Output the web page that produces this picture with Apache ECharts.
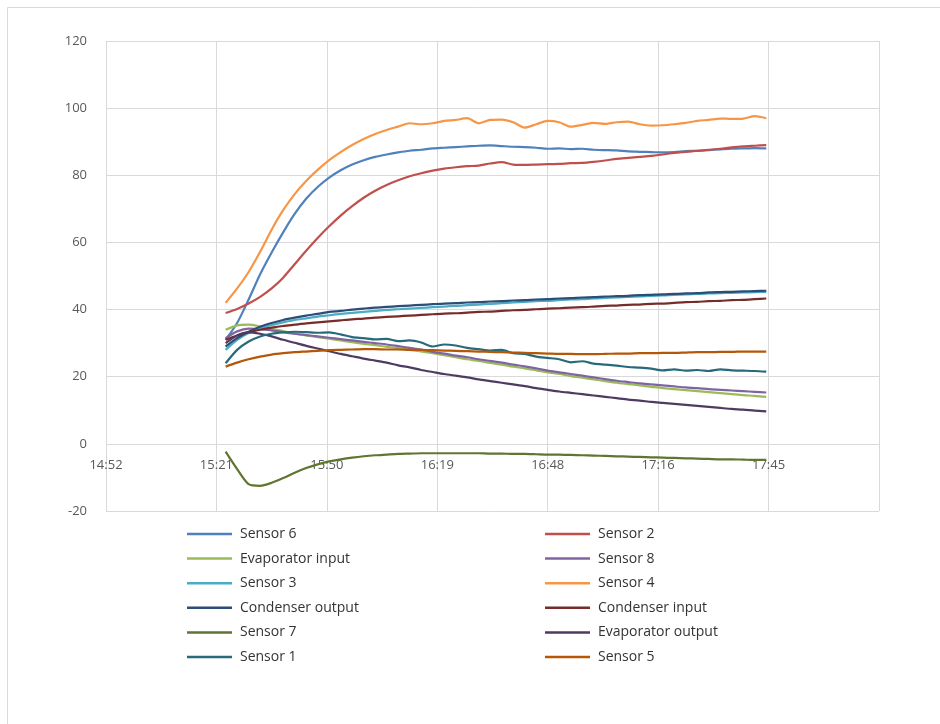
<!DOCTYPE html>
<html>
<head>
<meta charset="utf-8">
<title>Sensor temperatures</title>
<script src="https://cdn.jsdelivr.net/npm/echarts@6/dist/echarts.min.js"></script>
<style>
  html, body { margin: 0; padding: 0; background: #ffffff; }
  #chart { width: 940px; height: 724px; }
</style>
</head>
<body>
<div id="chart"></div>
<script>
// Sample times (every 3 minutes)
const times = [
  "15:24","15:27","15:30","15:33","15:36","15:39","15:42","15:45","15:48","15:51","15:54","15:57",
  "16:00","16:03","16:06","16:09","16:12","16:15","16:18","16:21","16:24","16:27","16:30","16:33",
  "16:36","16:39","16:42","16:45","16:48","16:51","16:54","16:57","17:00","17:03","17:06","17:09",
  "17:12","17:15","17:18","17:21","17:24","17:27","17:30","17:33","17:36","17:39","17:42","17:45"
];

// Temperature readings per channel
const sensor6 = [31,36,43,50.5,57,63,68.5,73,76.5,79.3,81.5,83.2,84.5,85.5,86.2,86.8,87.3,87.6,88,88.2,88.4,88.6,88.8,88.9,
  88.7,88.5,88.4,88.2,87.9,88,87.8,87.9,87.6,87.5,87.4,87.1,87,86.9,86.8,86.9,87.2,87.3,87.5,87.7,87.9,88,88.1,88];
const sensor2 = [39,40.2,41.8,43.8,46.3,49.5,53.5,57.5,61.3,64.8,68,70.8,73.3,75.4,77.1,78.5,79.7,80.6,81.4,82,82.4,82.7,82.9,83.5,
  83.9,83.2,83.1,83.2,83.3,83.4,83.6,83.7,84,84.4,84.9,85.2,85.5,85.8,86.2,86.7,87,87.3,87.6,87.9,88.3,88.6,88.8,89];
const evaporatorInput = [34,35.3,35.5,35,34.3,33.6,32.9,32.3,31.8,31.3,30.8,30.3,29.8,29.4,28.9,28.5,28,27.5,27,26.4,25.8,25.2,24.7,24.1,
  23.6,23,22.5,21.9,21.3,20.8,20.2,19.7,19.2,18.7,18.2,17.8,17.4,17,16.6,16.3,16,15.7,15.4,15.1,14.8,14.5,14.3,14];
const sensor8 = [31.5,33.5,34.3,34.2,33.8,33.3,32.8,32.4,32,31.6,31.2,30.8,30.4,30,29.6,29.1,28.6,28.1,27.4,26.9,26.3,25.8,25.2,24.7,
  24.2,23.6,23.1,22.5,21.8,21.3,20.8,20.3,19.8,19.3,18.8,18.4,18,17.7,17.4,17.1,16.8,16.6,16.3,16.1,15.9,15.7,15.5,15.3];
const sensor3 = [28,31,33,34.4,35.4,36.2,36.9,37.4,37.9,38.3,38.7,39,39.3,39.6,39.9,40.1,40.3,40.5,40.7,40.9,41.1,41.3,41.5,41.7,
  41.9,42.1,42.3,42.5,42.6,42.8,43,43.1,43.3,43.5,43.6,43.8,43.9,44.1,44.2,44.4,44.5,44.7,44.8,44.9,45,45.1,45.2,45.3];
const sensor4 = [42,46.3,51.2,57.2,63.8,69.6,74.4,78.3,81.6,84.5,86.9,89,90.8,92.3,93.5,94.5,95.5,95.2,95.5,96.2,96.5,97,95.5,96.5,
  96.6,95.8,94.2,95.2,96.2,95.8,94.5,95,95.6,95.3,95.8,96,95.2,94.8,94.9,95.2,95.6,96.2,96.5,96.9,96.8,96.9,97.6,97];
const condenserOutput = [29,31.5,33.4,34.9,36,36.9,37.6,38.2,38.7,39.3,39.6,40,40.3,40.6,40.8,41,41.2,41.4,41.6,41.8,41.9,42.1,42.2,42.4,
  42.5,42.7,42.8,43,43.1,43.3,43.4,43.6,43.7,43.9,44,44.1,44.3,44.4,44.5,44.7,44.8,44.9,45.1,45.2,45.3,45.4,45.5,45.6];
const condenserInput = [31,32.3,33.3,34,34.6,35.1,35.5,35.9,36.2,36.5,36.8,37.1,37.3,37.6,37.8,38,38.2,38.4,38.6,38.8,38.9,39.1,39.3,39.4,
  39.6,39.8,39.9,40.1,40.3,40.4,40.6,40.7,40.9,41.1,41.2,41.4,41.5,41.7,41.8,42,42.2,42.3,42.5,42.6,42.8,42.9,43.1,43.3];
const sensor7 = [-2.3,-7.5,-12,-12.5,-11.6,-10.2,-8.6,-7.2,-6.1,-5.2,-4.6,-4.1,-3.7,-3.4,-3.2,-3,-2.9,-2.8,-2.8,-2.8,-2.8,-2.8,-2.8,-2.9,
  -2.9,-3,-3,-3.1,-3.2,-3.2,-3.3,-3.4,-3.5,-3.6,-3.7,-3.8,-3.9,-4,-4.1,-4.2,-4.3,-4.4,-4.5,-4.6,-4.6,-4.7,-4.8,-4.8];
const evaporatorOutput = [30,32.3,33.2,32.8,32,31,30.1,29.2,28.4,27.6,26.8,26.1,25.4,24.8,24.2,23.4,22.8,22,21.4,20.8,20.3,19.8,19.2,18.7,
  18.2,17.7,17.2,16.6,16.1,15.6,15.2,14.8,14.4,14,13.6,13.2,12.9,12.5,12.2,11.9,11.6,11.3,11,10.7,10.4,10.2,9.9,9.7];
const sensor1 = [24,28,30.5,32,32.8,33.2,33.4,33.3,33.1,33.2,32.6,31.8,31.5,31.1,31.3,30.6,30.8,30.2,29,29.6,29.3,28.6,28.2,27.8,
  28,27,26.8,26,25.6,25.2,24.3,24.6,23.9,23.6,23.3,22.9,22.7,22.4,21.9,22.2,21.8,22,21.7,22.2,21.9,21.8,21.7,21.5];
const sensor5 = [23,24.2,25.2,26,26.6,27,27.3,27.5,27.7,27.9,28,28.1,28.2,28.2,28.1,28.1,28,28,27.9,27.8,27.7,27.6,27.5,27.4,
  27.3,27.2,27.1,27,26.9,26.8,26.8,26.7,26.7,26.8,26.9,26.9,27,27,27.1,27.1,27.2,27.3,27.3,27.4,27.4,27.5,27.5,27.5];

// Axis settings (time in minutes since midnight; 28.8 min = 0.02 day)
const yTicks = { min: -20, max: 120, step: 20 };
const xTicks = { min: 892.8, max: 1094.4, step: 28.8 };

const seriesDefs = [
  { name: "Sensor 6", values: sensor6, color: "#4F81BD" },
  { name: "Sensor 2", values: sensor2, color: "#C0504D" },
  { name: "Evaporator input", values: evaporatorInput, color: "#9BBB59" },
  { name: "Sensor 8", values: sensor8, color: "#8064A2" },
  { name: "Sensor 3", values: sensor3, color: "#4BACC6" },
  { name: "Sensor 4", values: sensor4, color: "#F79646" },
  { name: "Condenser output", values: condenserOutput, color: "#2C4D75" },
  { name: "Condenser input", values: condenserInput, color: "#772C2A" },
  { name: "Sensor 7", values: sensor7, color: "#5F7530" },
  { name: "Evaporator output", values: evaporatorOutput, color: "#4D3B62" },
  { name: "Sensor 1", values: sensor1, color: "#276A7C" },
  { name: "Sensor 5", values: sensor5, color: "#B65708" }
];

function toMinutes(t) {
  const [h, m] = t.split(":").map(Number);
  return h * 60 + m;
}
function fmtTime(v) {
  const m = Math.floor(v + 1e-6);
  const h = Math.floor(m / 60);
  const mm = m % 60;
  return h + ":" + (mm < 10 ? "0" : "") + mm;
}

const xs = times.map(toMinutes);
const FONT = "'Open Sans', 'Noto Sans', sans-serif";
const gridColor = "#d9d9d9";

const series = seriesDefs.map(d => ({
  name: d.name,
  type: "line",
  data: d.values.map((v, i) => [xs[i], v]),
  showSymbol: false,
  smooth: 0.25,
  lineStyle: { width: 2.2, color: d.color },
  itemStyle: { color: d.color },
  emphasis: { disabled: true },
  z: 3
}));

const leftNames = ["Sensor 6", "Evaporator input", "Sensor 3", "Condenser output", "Sensor 7", "Sensor 1"];
const rightNames = ["Sensor 2", "Sensor 8", "Sensor 4", "Condenser input", "Evaporator output", "Sensor 5"];

function legendAt(left, names) {
  return {
    orient: "vertical",
    left: left,
    top: 525,
    padding: 0,
    data: names,
    icon: "rect",
    itemWidth: 45,
    itemHeight: 2.5,
    itemGap: 6.6,
    selectedMode: false,
    textStyle: { fontFamily: FONT, fontSize: 14, color: "#333333", lineHeight: 18, padding: [0, 0, 0, 3] }
  };
}

const chart = echarts.init(document.getElementById("chart"), null, { renderer: "canvas" });
chart.setOption({
  animation: false,
  backgroundColor: "#ffffff",
  graphic: [{
    type: "rect",
    shape: { x: 7.5, y: 7.5, width: 980, height: 780 },
    style: { fill: "none", stroke: "#d9d9d9", lineWidth: 1 },
    silent: true,
    z: 0
  }],
  grid: { left: 106, right: 61, top: 41, bottom: 213 },
  legend: [legendAt(187, leftNames), legendAt(545, rightNames)],
  xAxis: {
    type: "value",
    min: xTicks.min,
    max: xTicks.max,
    interval: xTicks.step,
    axisLine: { show: false },
    axisTick: { show: false },
    // time labels sit just under the zero line
    axisLabel: {
      formatter: fmtTime,
      showMaxLabel: false,
      margin: -52,
      fontFamily: FONT,
      fontSize: 13,
      color: "#595959"
    },
    splitLine: { show: true, lineStyle: { color: gridColor, width: 1 } }
  },
  yAxis: {
    type: "value",
    min: yTicks.min,
    max: yTicks.max,
    interval: yTicks.step,
    axisLine: { show: false },
    axisTick: { show: false },
    axisLabel: { margin: 19, fontFamily: FONT, fontSize: 13, color: "#595959" },
    splitLine: { show: true, lineStyle: { color: gridColor, width: 1 } }
  },
  series: series
});
</script>
</body>
</html>
